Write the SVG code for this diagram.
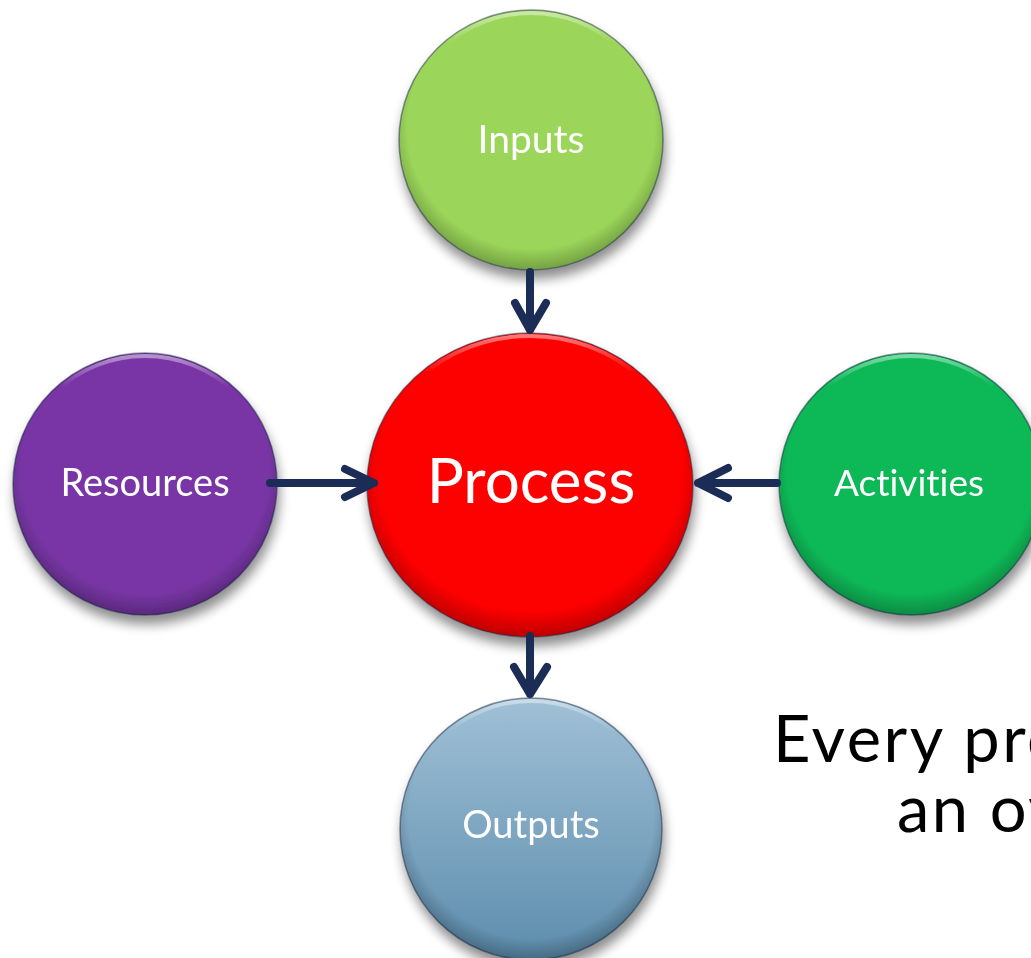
<svg xmlns="http://www.w3.org/2000/svg" width="1031" height="958" viewBox="0 0 1031 958">
<style>
  .lbl{font-family:"Lato","Liberation Sans",sans-serif;fill:#ffffff;text-anchor:middle;font-variant-ligatures:none}
  .edge{fill:none;stroke:#0e1d3a;stroke-opacity:.45;stroke-width:1.5}
  .bevel{fill:url(#bevel)}
  .conn{fill:none;stroke:#1b2d57;stroke-width:8;stroke-linecap:round;stroke-linejoin:round}
  .big{font-family:"Lato","Liberation Sans",sans-serif;font-size:65px;letter-spacing:2.5px;fill:#000000;font-variant-ligatures:none}
</style>
<defs>
  <filter id="sh" x="-20%" y="-20%" width="140%" height="145%">
    <feGaussianBlur in="SourceAlpha" stdDeviation="6"/>
    <feOffset dx="2" dy="9" result="b"/>
    <feComponentTransfer><feFuncA type="linear" slope="0.45"/></feComponentTransfer>
    <feMerge><feMergeNode/><feMergeNode in="SourceGraphic"/></feMerge>
  </filter>
  <radialGradient id="bevel" cx="0.5" cy="0.45" r="0.55">
    <stop offset="0.85" stop-color="#000" stop-opacity="0"/>
    <stop offset="1" stop-color="#000" stop-opacity="0.25"/>
  </radialGradient>
  <linearGradient id="outG" x1="0" y1="0" x2="0" y2="1">
    <stop offset="0" stop-color="#a0c0d6"/>
    <stop offset="1" stop-color="#5d8dad"/>
  </linearGradient>
  <linearGradient id="hl" x1="0" y1="0" x2="0" y2="1">
    <stop offset="0" stop-color="#fff" stop-opacity="0.45"/>
    <stop offset="0.12" stop-color="#fff" stop-opacity="0"/>
  </linearGradient>
</defs>
<rect width="1031" height="958" fill="#ffffff"/>

<g id="inputs" filter="url(#sh)">
  <ellipse cx="531" cy="140" rx="132" ry="130" fill="#9bd65a"/>
  <ellipse cx="531" cy="140" rx="132" ry="130" class="bevel"/>
  <ellipse cx="531" cy="140" rx="129" ry="127" fill="none" stroke="url(#hl)" stroke-width="4"/>
  <ellipse cx="531" cy="140" rx="132" ry="130" class="edge"/>
  <text x="531" y="153" class="lbl" font-size="39">Inputs</text>
</g>

<g id="resources" filter="url(#sh)">
  <ellipse cx="145" cy="484" rx="132" ry="131" fill="#7936a6"/>
  <ellipse cx="145" cy="484" rx="132" ry="131" class="bevel"/>
  <ellipse cx="145" cy="484" rx="129" ry="128" fill="none" stroke="url(#hl)" stroke-width="4"/>
  <ellipse cx="145" cy="484" rx="132" ry="131" class="edge"/>
  <text x="145" y="496" class="lbl" font-size="38">Resources</text>
</g>

<g id="process" filter="url(#sh)">
  <ellipse cx="530" cy="485" rx="163" ry="152" fill="#fd0505"/>
  <ellipse cx="530" cy="485" rx="163" ry="152" class="bevel"/>
  <ellipse cx="530" cy="485" rx="160" ry="149" fill="none" stroke="url(#hl)" stroke-width="4"/>
  <ellipse cx="530" cy="485" rx="163" ry="152" class="edge"/>
  <text x="531" y="503" class="lbl" font-size="62">Process</text>
</g>

<g id="activities" filter="url(#sh)">
  <ellipse cx="911" cy="484" rx="132" ry="131" fill="#0ab957"/>
  <ellipse cx="911" cy="484" rx="132" ry="131" class="bevel"/>
  <ellipse cx="911" cy="484" rx="129" ry="128" fill="none" stroke="url(#hl)" stroke-width="4"/>
  <ellipse cx="911" cy="484" rx="132" ry="131" class="edge"/>
  <text x="909" y="496" class="lbl" font-size="37">Activities</text>
</g>

<g id="outputs" filter="url(#sh)">
  <ellipse cx="531" cy="829" rx="131" ry="131" fill="url(#outG)"/>
  <ellipse cx="531" cy="829" rx="131" ry="131" class="bevel"/>
  <ellipse cx="531" cy="829" rx="128" ry="128" fill="none" stroke="url(#hl)" stroke-width="4"/>
  <ellipse cx="531" cy="829" rx="131" ry="131" class="edge"/>
  <text x="531" y="838" class="lbl" font-size="38">Outputs</text>
</g>

<g id="connectors">
  <path class="conn" d="M530 272 L530 330 M515 303 L530 330 L546 303"/>
  <path class="conn" d="M270 483 L374 483 M345 469 L374 483 L345 497"/>
  <path class="conn" d="M777 483 L698 483 M728 468 L698 483 L728 498"/>
  <path class="conn" d="M530 636 L530 694 M514 667 L530 694 L547 667"/>
</g>

<g id="caption">
  <text x="773" y="762" class="big">Every pro</text>
  <text x="897" y="832" class="big">an ov</text>
</g>
</svg>
